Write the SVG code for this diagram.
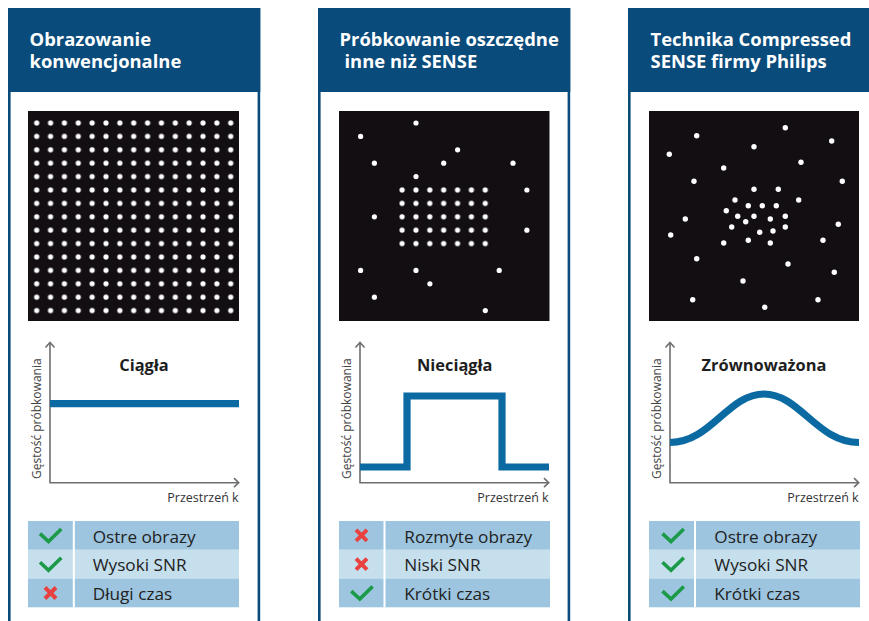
<svg xmlns="http://www.w3.org/2000/svg" xmlns:xlink="http://www.w3.org/1999/xlink" width="869" height="621" viewBox="0 0 869 621">
<style>
.frame{fill:#fff;stroke:#094b7a;stroke-width:2.6}
.head{fill:#094b7a}
.htxt{font-family:"Open Sans","Liberation Sans",sans-serif;font-weight:700;font-size:18.4px;fill:#fff}
.blk{fill:#120e12}
.dot{fill:#fff}
.axis{fill:none;stroke:#6e6e6e;stroke-width:1.6}
.curve{fill:none;stroke:#0b6aa2;stroke-width:7.2;stroke-linejoin:miter}
.ctitle{font-family:"Open Sans","Liberation Sans",sans-serif;font-weight:700;font-size:16.4px;fill:#1e1e1e;text-anchor:middle}
.ylab{font-family:"Open Sans","Liberation Sans",sans-serif;font-size:12px;fill:#444;text-anchor:middle}
.xlab{font-family:"Open Sans","Liberation Sans",sans-serif;font-size:12.5px;fill:#333;text-anchor:end}
.rd{fill:#9dc5df}
.rl{fill:#c5dfed}
.sep{stroke:#fff;stroke-width:2}
.ttxt{font-family:"Open Sans","Liberation Sans",sans-serif;font-size:17.2px;fill:#222}
.ok{fill:none;stroke:#1b9a48;stroke-width:3.6;stroke-linecap:butt;stroke-linejoin:miter}
.no{fill:none;stroke:#e8413f;stroke-width:4}
</style>
<defs>
<pattern id="g1" patternUnits="userSpaceOnUse" x="29.77" y="116.3" width="13.86" height="13.4">
<circle cx="6.93" cy="6.7" r="2.6" fill="#fff"/>
</pattern>
<pattern id="g2" patternUnits="userSpaceOnUse" x="395.17" y="183.3" width="13.86" height="13.4">
<circle cx="6.93" cy="6.7" r="2.6" fill="#fff"/>
</pattern>
<path id="chk" d="M-10.5,-1.8 L-2,6.2 L10.8,-6.4"/>
<path id="crs" d="M-5.5,-5.5 L5.5,5.5 M5.5,-5.5 L-5.5,5.5"/>
</defs>
<rect width="869" height="621" fill="#fff"/>

<!-- Panel 1 -->
<g id="panel1">
<rect class="frame" x="9.3" y="9.3" width="249.6" height="700"/>
<rect class="head" x="8" y="8" width="252.3" height="84"/>
<text class="htxt" x="29.5" y="45.7">Obrazowanie</text>
<text class="htxt" x="29.5" y="68.3">konwencjonalne</text>
<rect class="blk" x="28" y="111" width="211" height="210"/>
<rect x="29.77" y="116.3" width="207.9" height="201" fill="url(#g1)"/>
<g id="chart1">
<path class="axis" d="M50,343 V482.7 H238"/>
<polyline class="axis" points="45.5,347.5 50,342.5 54.5,347.5"/>
<polyline class="axis" points="234,478.2 238.7,482.7 234,487.2"/>
<line class="curve" x1="50" y1="403.7" x2="239" y2="403.7"/>
<text class="ctitle" x="144" y="370.7">Ciągła</text>
<text class="ylab" transform="translate(40.5,418.7) rotate(-90)">Gęstość próbkowania</text>
<text class="xlab" x="238.7" y="501.7">Przestrzeń k</text>
</g>
<g id="table1">
<rect class="rd" x="28" y="521" width="211" height="28.8"/>
<rect class="rl" x="28" y="549.8" width="211" height="28.7"/>
<rect class="rd" x="28" y="578.5" width="211" height="28.8"/>
<line class="sep" x1="73.8" y1="521" x2="73.8" y2="607.3"/>
<use href="#chk" class="ok" x="50.5" y="535.4"/>
<use href="#chk" class="ok" x="50.5" y="564.1"/>
<use href="#crs" class="no" x="50.5" y="593"/>
<text class="ttxt" x="92.7" y="543.3">Ostre obrazy</text>
<text class="ttxt" x="92.7" y="571.2">Wysoki SNR</text>
<text class="ttxt" x="92.7" y="599.5">Długi czas</text>
</g>
</g>

<!-- Panel 2 -->
<g id="panel2">
<rect class="frame" x="319.3" y="9.3" width="249.6" height="700"/>
<rect class="head" x="318" y="8" width="252.3" height="84"/>
<text class="htxt" x="339.5" y="45.7">Próbkowanie oszczędne</text>
<text class="htxt" x="344.5" y="68.3">inne niż SENSE</text>
<rect class="blk" x="339" y="111" width="210.5" height="210"/>
<rect x="395.17" y="183.3" width="97.02" height="67" fill="url(#g2)"/>
<g class="dot">
<circle cx="416.0" cy="123.0" r="2.6"/>
<circle cx="360.6" cy="136.4" r="2.6"/>
<circle cx="457.6" cy="149.8" r="2.6"/>
<circle cx="374.4" cy="163.2" r="2.6"/>
<circle cx="443.7" cy="163.2" r="2.6"/>
<circle cx="513.0" cy="163.2" r="2.6"/>
<circle cx="416.0" cy="176.6" r="2.6"/>
<circle cx="526.9" cy="190.0" r="2.6"/>
<circle cx="374.4" cy="216.8" r="2.6"/>
<circle cx="526.9" cy="230.2" r="2.6"/>
<circle cx="360.6" cy="270.4" r="2.6"/>
<circle cx="416.0" cy="270.4" r="2.6"/>
<circle cx="499.2" cy="270.4" r="2.6"/>
<circle cx="429.9" cy="283.8" r="2.6"/>
<circle cx="374.4" cy="297.2" r="2.6"/>
<circle cx="485.3" cy="310.6" r="2.6"/>
</g>
<g id="chart2">
<path class="axis" d="M360,343 V482.7 H548"/>
<polyline class="axis" points="355.5,347.5 360,342.5 364.5,347.5"/>
<polyline class="axis" points="544,478.2 548.7,482.7 544,487.2"/>
<path class="curve" d="M360,467 H407 V396 H502 V467 H549"/>
<text class="ctitle" x="454.7" y="370.7">Nieciągła</text>
<text class="ylab" transform="translate(350.5,418.7) rotate(-90)">Gęstość próbkowania</text>
<text class="xlab" x="548.7" y="501.7">Przestrzeń k</text>
</g>
<g id="table2">
<rect class="rd" x="339" y="521" width="211" height="28.8"/>
<rect class="rl" x="339" y="549.8" width="211" height="28.7"/>
<rect class="rd" x="339" y="578.5" width="211" height="28.8"/>
<line class="sep" x1="384.5" y1="521" x2="384.5" y2="607.3"/>
<use href="#crs" class="no" x="361.5" y="535.4"/>
<use href="#crs" class="no" x="361.5" y="564.1"/>
<use href="#chk" class="ok" x="361.8" y="592.9"/>
<text class="ttxt" x="404.3" y="543.3">Rozmyte obrazy</text>
<text class="ttxt" x="404.3" y="571.2">Niski SNR</text>
<text class="ttxt" x="404.3" y="599.5">Krótki czas</text>
</g>
</g>

<!-- Panel 3 -->
<g id="panel3">
<rect class="frame" x="629.3" y="9.3" width="249.6" height="700"/>
<rect class="head" x="628" y="8" width="252.3" height="84"/>
<text class="htxt" x="650.5" y="45.7">Technika Compressed</text>
<text class="htxt" x="650.5" y="68.3">SENSE firmy Philips</text>
<rect class="blk" x="649" y="111" width="210" height="210"/>
<g class="dot">
<circle cx="785.3" cy="127.7" r="2.7"/>
<circle cx="696.7" cy="135.7" r="2.7"/>
<circle cx="831.7" cy="141.0" r="2.7"/>
<circle cx="754.0" cy="146.7" r="2.7"/>
<circle cx="669.3" cy="154.3" r="2.7"/>
<circle cx="801.0" cy="162.3" r="2.7"/>
<circle cx="723.7" cy="168.0" r="2.7"/>
<circle cx="694.0" cy="181.3" r="2.7"/>
<circle cx="842.3" cy="181.3" r="2.7"/>
<circle cx="754.0" cy="189.3" r="2.7"/>
<circle cx="778.3" cy="189.3" r="2.7"/>
<circle cx="735.0" cy="200.0" r="2.7"/>
<circle cx="798.7" cy="200.0" r="2.7"/>
<circle cx="748.3" cy="205.7" r="2.7"/>
<circle cx="762.3" cy="205.7" r="2.7"/>
<circle cx="776.3" cy="205.7" r="2.7"/>
<circle cx="726.3" cy="210.7" r="2.7"/>
<circle cx="737.7" cy="216.3" r="2.7"/>
<circle cx="754.0" cy="216.3" r="2.7"/>
<circle cx="785.3" cy="216.3" r="2.7"/>
<circle cx="685.3" cy="219.0" r="2.7"/>
<circle cx="745.7" cy="221.7" r="2.7"/>
<circle cx="770.3" cy="219.0" r="2.7"/>
<circle cx="838.3" cy="224.3" r="2.7"/>
<circle cx="731.7" cy="227.0" r="2.7"/>
<circle cx="785.3" cy="227.0" r="2.7"/>
<circle cx="759.7" cy="232.3" r="2.7"/>
<circle cx="773.0" cy="231.0" r="2.7"/>
<circle cx="670.7" cy="235.0" r="2.7"/>
<circle cx="723.7" cy="243.0" r="2.7"/>
<circle cx="748.3" cy="240.3" r="2.7"/>
<circle cx="770.3" cy="243.0" r="2.7"/>
<circle cx="823.0" cy="240.3" r="2.7"/>
<circle cx="696.7" cy="258.7" r="2.7"/>
<circle cx="788.0" cy="264.0" r="2.7"/>
<circle cx="834.3" cy="272.3" r="2.7"/>
<circle cx="743.0" cy="281.0" r="2.7"/>
<circle cx="692.7" cy="299.7" r="2.7"/>
<circle cx="818.0" cy="299.7" r="2.7"/>
<circle cx="764.7" cy="307.3" r="2.7"/>
</g>
<g id="chart3">
<path class="axis" d="M670,343 V482.7 H858"/>
<polyline class="axis" points="665.5,347.5 670,342.5 674.5,347.5"/>
<polyline class="axis" points="854,478.2 858.7,482.7 854,487.2"/>
<path class="curve" d="M670,442.5 C711,442.5 728,394 764,394 C800,394 817,442.5 859,442.5"/>
<text class="ctitle" x="764" y="370.7">Zrównoważona</text>
<text class="ylab" transform="translate(660.5,418.7) rotate(-90)">Gęstość próbkowania</text>
<text class="xlab" x="858.7" y="501.7">Przestrzeń k</text>
</g>
<g id="table3">
<rect class="rd" x="649" y="521" width="211" height="28.8"/>
<rect class="rl" x="649" y="549.8" width="211" height="28.7"/>
<rect class="rd" x="649" y="578.5" width="211" height="28.8"/>
<line class="sep" x1="695" y1="521" x2="695" y2="607.3"/>
<use href="#chk" class="ok" x="673" y="535.4"/>
<use href="#chk" class="ok" x="673" y="564.1"/>
<use href="#chk" class="ok" x="673" y="592.9"/>
<text class="ttxt" x="714.3" y="543.3">Ostre obrazy</text>
<text class="ttxt" x="714.3" y="571.2">Wysoki SNR</text>
<text class="ttxt" x="714.3" y="599.5">Krótki czas</text>
</g>
</g>
</svg>
